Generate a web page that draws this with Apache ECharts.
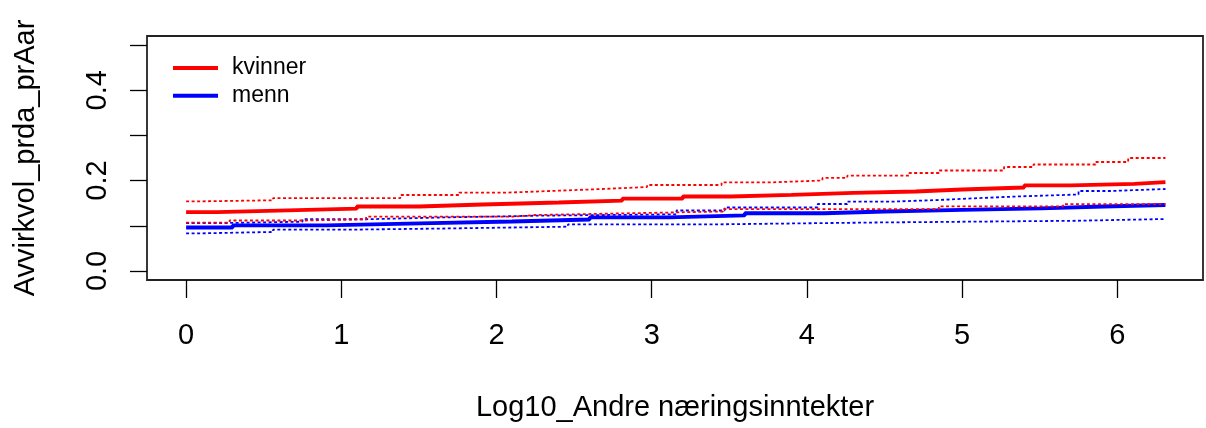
<!DOCTYPE html>
<html>
<head>
<meta charset="utf-8">
<script src="https://cdn.jsdelivr.net/npm/echarts@6/dist/echarts.min.js"></script>
<style>
  html, body { margin: 0; padding: 0; background: #fff; }
  #chart { width: 1206px; height: 428px; }
</style>
</head>
<body>
<div id="chart"></div>
<script>
// Step curves of Avvirkvol_prda_prAar against Log10_Andre næringsinntekter,
// fitted value plus lower/upper band, for women (kvinner) and men (menn).
const xEnd = 6.31;

const kvinnerFitX = [0, 0.20, 0.59, 1.10, 1.50, 1.91, 2.40, 2.81, 3.20, 3.51, 3.90, 4.30, 4.70, 5.00, 5.40, 5.70, 6.11];
const kvinnerFit  = [0.130, 0.1334, 0.1378, 0.1427, 0.1471, 0.1515, 0.1555, 0.160, 0.1648, 0.1686, 0.1726, 0.1759, 0.1803, 0.1847, 0.1892, 0.1929, 0.1965];

const kvinnerUpperX = [0, 0.04, 0.56, 1.38, 1.76, 2.05, 2.35, 2.68, 2.97, 3.45, 3.78, 4.10, 4.26, 4.66, 4.85, 5.27, 5.46, 5.86, 6.07];
const kvinnerUpper  = [0.1538, 0.1564, 0.1611, 0.1681, 0.1732, 0.1770, 0.1814, 0.1858, 0.1903, 0.1962, 0.2002, 0.2058, 0.2108, 0.2168, 0.2223, 0.2301, 0.2356, 0.2412, 0.2500];

const kvinnerLowerX = [0, 0.28, 0.77, 1.16, 2.10, 2.26, 2.86, 3.46, 4.85, 5.65];
const kvinnerLower  = [0.1069, 0.1117, 0.1144, 0.1201, 0.1239, 0.1277, 0.1316, 0.1367, 0.1431, 0.1478];

const mennFitX = [0, 0.30, 0.90, 1.505, 2.10, 2.60, 3.11, 3.60, 4.11, 4.50, 5.00, 5.51, 5.91];
const mennFit  = [0.0962, 0.1007, 0.1051, 0.1095, 0.1139, 0.1184, 0.1228, 0.1277, 0.1316, 0.1350, 0.1383, 0.1427, 0.1460];

const mennUpperX = [0, 0.28, 0.75, 1.16, 1.65, 2.26, 3.16, 3.47, 4.07, 4.26, 4.54, 4.85, 5.08, 5.35, 5.75, 5.96];
const mennUpper  = [0.1062, 0.1091, 0.1144, 0.1184, 0.1223, 0.1254, 0.1338, 0.1405, 0.1482, 0.1533, 0.1571, 0.1608, 0.1648, 0.1692, 0.1770, 0.1814];

const mennLowerX = [0, 0.05, 0.56, 1.05, 1.67, 2.46, 3.35, 4.45, 5.74];
const mennLower  = [0.0830, 0.0863, 0.0914, 0.0940, 0.0980, 0.1029, 0.1073, 0.1111, 0.1150];

const xTicks = [0, 1, 2, 3, 4, 5, 6];
const yTicks = [0, 0.1, 0.2, 0.3, 0.4, 0.5];
const yTickLabels = [0, 0.2, 0.4];

const FONT = '"Liberation Sans", Arial, Helvetica, sans-serif';
const RED = '#ff0000';
const BLUE = '#0000ff';

// pair breakpoints with values and hold the last value out to xEnd
function steps(xs, ys) {
  const pts = xs.map((x, i) => [x, ys[i]]);
  pts.push([xEnd, ys[ys.length - 1]]);
  return pts;
}

function stepSeries(name, xs, ys, color, dashed) {
  return {
    name: name,
    type: 'line',
    step: 'end',
    symbol: 'none',
    silent: true,
    data: steps(xs, ys),
    lineStyle: dashed
      ? { color: color, width: 1.8, type: [3, 2.5], cap: 'butt' }
      : { color: color, width: 3.8, cap: 'butt' },
    itemStyle: { color: color }
  };
}

const chart = echarts.init(document.getElementById('chart'), null, { renderer: 'canvas' });

chart.setOption({
  animation: false,
  backgroundColor: '#fff',
  grid: {
    left: 147, right: 3, top: 36, bottom: 148,
    show: true, borderColor: '#222', borderWidth: 1.8,
    containLabel: false, outerBoundsMode: 'none'
  },
  legend: {
    orient: 'vertical',
    left: 168, top: 51,
    itemWidth: 45, itemHeight: 4, itemGap: 3.7,
    icon: 'rect',
    selectedMode: false,
    data: ['kvinner', 'menn'],
    textStyle: { fontFamily: FONT, fontSize: 23, lineHeight: 24, color: '#000', padding: [0, 0, 0, 9] }
  },
  xAxis: {
    type: 'value',
    min: -0.252, max: 6.552,
    name: 'Log10_Andre næringsinntekter',
    nameLocation: 'middle',
    nameGap: 113,
    nameTextStyle: { fontFamily: FONT, fontSize: 29, color: '#000' },
    axisLine: { show: false, onZero: false },
    splitLine: { show: false },
    axisTick: { show: true, customValues: xTicks, length: 18, lineStyle: { color: '#000', width: 1.3 } },
    axisLabel: { customValues: xTicks, margin: 41, fontFamily: FONT, fontSize: 29, color: '#000' }
  },
  yAxis: {
    type: 'value',
    min: -0.02, max: 0.52,
    name: 'Avvirkvol_prda_prAar',
    nameLocation: 'middle',
    nameRotate: 90,
    nameGap: 107,
    nameTextStyle: { fontFamily: FONT, fontSize: 29, color: '#000' },
    axisLine: { show: false, onZero: false },
    splitLine: { show: false },
    axisTick: { show: true, customValues: yTicks, length: 17, lineStyle: { color: '#000', width: 1.3 } },
    axisLabel: {
      customValues: yTickLabels, rotate: 90, margin: 35,
      fontFamily: FONT, fontSize: 29, color: '#000',
      formatter: v => v.toFixed(1)
    }
  },
  series: [
    stepSeries('menn', mennFitX, mennFit, BLUE, false),
    stepSeries('menn', mennUpperX, mennUpper, BLUE, true),
    stepSeries('menn', mennLowerX, mennLower, BLUE, true),
    stepSeries('kvinner', kvinnerFitX, kvinnerFit, RED, false),
    stepSeries('kvinner', kvinnerUpperX, kvinnerUpper, RED, true),
    stepSeries('kvinner', kvinnerLowerX, kvinnerLower, RED, true)
  ]
});
</script>
</body>
</html>
